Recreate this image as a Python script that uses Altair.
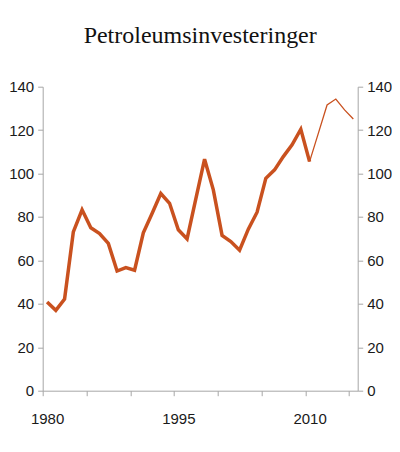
import pandas as pd
import altair as alt

# Petroleumsinvesteringer, mrd. kroner (lest av figuren)
years = list(range(1980, 2016))
values = [40.8, 37.0, 42.2, 73.1, 83.3, 75.0, 72.4, 67.8, 55.1, 56.7,
          55.5, 72.7, 81.6, 90.8, 86.3, 74.1, 69.9, 88.3, 106.6, 92.5,
          71.5, 68.7, 64.7, 74.4, 82.2, 97.8, 101.7, 107.8, 113.2, 120.4,
          105.5, 118.5, 131.6, 134.3, 129.3, 125.1]
last_actual = 2010

df = pd.DataFrame({"year": years, "value": values})
actual = df[df.year <= last_actual]
forecast = df[df.year >= last_actual]

colour = "#c9511f"
grey = "#a6a6a6"
font = "Liberation Sans"

x_ticks = [y - 0.5 for y in range(1980, 2016, 5)] + [1980, 1995, 2010]

x = alt.X("year:Q",
          scale=alt.Scale(domain=[1979.5, 2015.5], nice=False, zero=False),
          axis=alt.Axis(values=x_ticks, title=None, grid=False, format="d",
                        labelExpr="datum.value % 1 == 0 ? datum.label : ''",
                        tickOpacity={"condition": {"test": "datum.value % 1 == 0", "value": 0}, "value": 1},
                        labelOverlap=False, labelFlush=False,
                        domainColor=grey, tickColor=grey, tickSize=5,
                        labelPadding=16, labelFont=font, labelFontSize=15,
                        labelColor="#1a1a1a"))

y_scale = alt.Scale(domain=[0, 140], nice=False)

left = alt.Chart(actual).mark_line(color=colour, strokeWidth=3.5).encode(
    x=x,
    y=alt.Y("value:Q", scale=y_scale,
            axis=alt.Axis(orient="left", values=list(range(0, 141, 20)), title=None,
                          grid=False, domainColor=grey, tickColor=grey, tickSize=5,
                          labelPadding=4, labelFont=font, labelFontSize=15,
                          labelColor="#1a1a1a")),
)

right = alt.Chart(forecast).mark_line(color=colour, strokeWidth=1.3).encode(
    x=x,
    y=alt.Y("value:Q", scale=y_scale,
            axis=alt.Axis(orient="right", values=list(range(0, 141, 20)), title=None,
                          grid=False, domainColor=grey, tickColor=grey, tickSize=5,
                          labelPadding=4, labelFont=font, labelFontSize=15,
                          labelColor="#1a1a1a")),
)

chart = alt.layer(left, right).resolve_scale(y="independent").properties(
    width=315, height=304,
    autosize=alt.AutoSizeParams(type="none"),
    padding={"left": 34.7, "top": 78.7, "right": 34, "bottom": 48},
    title=alt.TitleParams("Petroleumsinvesteringer", font="Liberation Serif",
                          fontSize=24, fontWeight="normal", color="#111111",
                          anchor="middle", offset=32),
).configure_view(stroke=None)

chart.save("out.html", embed_options={"renderer": "svg", "actions": False})
